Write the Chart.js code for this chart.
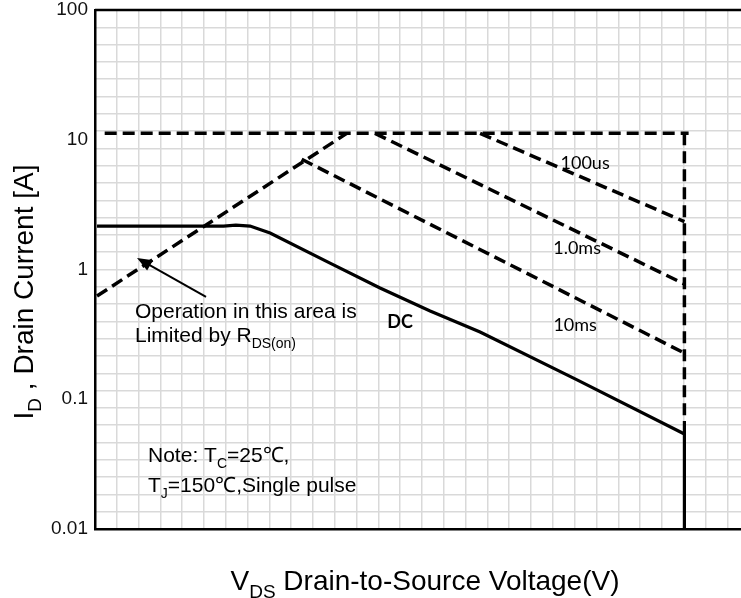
<!DOCTYPE html>
<html>
<head>
<meta charset="utf-8">
<script src="https://cdn.jsdelivr.net/npm/chart.js@4.4.1/dist/chart.umd.min.js"></script>
<style>
  html,body{margin:0;padding:0;background:#fff;overflow:hidden;}
  canvas{display:block;}
</style>
</head>
<body>
<canvas id="soa" width="741" height="598"></canvas>
<script>
/* ---------------- data (V in volts, I in amps) ---------------- */
const yTicks  = [0.01, 0.1, 1, 10, 100];
const yLabels = ["0.01", "0.1", "1", "10", "100"];

const idmV = [0.112, 104],  idmI = [11.2, 11.2];        // pulsed current limit
const rdsV = [0.1024, 1.904], rdsI = [0.625, 11.2];     // R_DS(on) limit
const us100V = [9.06, 99],  us100I = [11.2, 2.34];
const ms1V   = [2.65, 99],  ms1I   = [11.2, 0.773];
const ms10V  = [1.124, 99], ms10I  = [7.07, 0.227];
const dcV = [0.1024, 0.45, 0.52, 0.614, 0.776, 1.565, 2.81, 5.05, 9.06, 28.2, 99];
const dcI = [2.16, 2.16, 2.2, 2.16, 1.91, 1.12, 0.72, 0.479, 0.33, 0.141, 0.054];
const vlimV = [99, 99], vlimDashI = [11.2, 0.075], vlimSolidI = [0.068, 0.0102];

const pts = (xs, ys) => xs.map((x, i) => ({x, y: ys[i]}));

const DASH = [12, 6];
const base = {xAxisID: "x", yAxisID: "y", borderColor: "#000", showLine: true, pointRadius: 0, tension: 0};
const dashed = (xs, ys) => ({...base, data: pts(xs, ys), borderWidth: 3.5, borderDash: DASH});
const solid  = (xs, ys) => ({...base, data: pts(xs, ys), borderWidth: 3.2});

/* ---------------- annotation helpers ---------------- */
function richText(ctx, parts, x, y, size, family){
  let cx = x;
  parts.forEach(p => {
    const s = p.sub ? Math.round(size * 0.68) : size;
    ctx.font = `${s}px ${family}`;
    ctx.fillText(p.t, cx, p.sub ? y + size * 0.28 : y);
    cx += ctx.measureText(p.t).width;
  });
}
function richWidth(ctx, parts, size, family){
  let w = 0;
  parts.forEach(p => {
    ctx.font = `${p.sub ? Math.round(size * 0.68) : size}px ${family}`;
    w += ctx.measureText(p.t).width;
  });
  return w;
}

const ARIAL = "'Liberation Sans', Arial, sans-serif";
const CAL = "Lato, 'Open Sans', sans-serif";

const annotate = {
  id: "annotate",
  afterDraw(chart){
    const {ctx, chartArea: a, scales: {x, y}} = chart;
    ctx.save();
    // top frame line
    ctx.strokeStyle = "#000"; ctx.lineWidth = 2.5;
    ctx.beginPath(); ctx.moveTo(a.left, a.top); ctx.lineTo(a.right, a.top); ctx.stroke();

    ctx.fillStyle = "#000";
    ctx.textBaseline = "alphabetic"; ctx.textAlign = "left";

    // arrow toward the R_DS(on) line
    const tx = x.getPixelForValue(0.1635), ty = y.getPixelForValue(1.226);
    const fx = x.getPixelForValue(0.3667), fy = y.getPixelForValue(0.614);
    const ang = Math.atan2(ty - fy, tx - fx);
    ctx.lineWidth = 2;
    ctx.beginPath(); ctx.moveTo(fx, fy); ctx.lineTo(tx - 10 * Math.cos(ang), ty - 10 * Math.sin(ang)); ctx.stroke();
    ctx.beginPath();
    ctx.moveTo(tx, ty);
    ctx.lineTo(tx - 15 * Math.cos(ang) + 6 * Math.sin(ang), ty - 15 * Math.sin(ang) - 6 * Math.cos(ang));
    ctx.lineTo(tx - 15 * Math.cos(ang) - 6 * Math.sin(ang), ty - 15 * Math.sin(ang) + 6 * Math.cos(ang));
    ctx.closePath(); ctx.fill();

    const lx = x.getPixelForValue(0.1596);
    richText(ctx, [{t: "Operation in this area is"}], lx, y.getPixelForValue(0.423), 21, ARIAL);
    richText(ctx, [{t: "Limited by R"}, {t: "DS(on)", sub: true}], lx, y.getPixelForValue(0.276), 21, ARIAL);

    const nx = x.getPixelForValue(0.186);
    richText(ctx, [{t: "Note: T"}, {t: "C", sub: true}, {t: "=25℃,"}], nx, y.getPixelForValue(0.0328), 21, ARIAL);
    richText(ctx, [{t: "T"}, {t: "J", sub: true}, {t: "=150℃,Single pulse"}], nx, y.getPixelForValue(0.0193), 21, ARIAL);

    // curve labels
    ctx.textAlign = "center"; ctx.textBaseline = "middle";
    ctx.font = `18px ${CAL}`;
    ctx.fillText("100us", x.getPixelForValue(30.98), y.getPixelForValue(6.62));
    ctx.fillText("1.0ms", x.getPixelForValue(28.2), y.getPixelForValue(1.465));
    ctx.fillText("10ms", x.getPixelForValue(27.56), y.getPixelForValue(0.3735));
    ctx.font = `bold 18px ${CAL}`;
    ctx.fillText("DC", x.getPixelForValue(3.553), y.getPixelForValue(0.394));

    // axis titles
    ctx.textAlign = "left"; ctx.textBaseline = "alphabetic";
    const xt = [{t: "V"}, {t: "DS", sub: true}, {t: " Drain-to-Source Voltage(V)"}];
    const w = richWidth(ctx, xt, 28, ARIAL);
    richText(ctx, xt, 425 - w / 2, 590, 28, ARIAL);

    const yt = [{t: "I"}, {t: "D", sub: true}, {t: " , Drain Current [A]"}];
    const wy = richWidth(ctx, yt, 28, ARIAL);
    ctx.translate(33, 292); ctx.rotate(-Math.PI / 2);
    richText(ctx, yt, -wy / 2, 0, 28, ARIAL);
    ctx.restore();
  }
};

new Chart(document.getElementById("soa"), {
  type: "scatter",
  data: {datasets: [
    dashed(idmV, idmI),
    dashed(rdsV, rdsI),
    dashed(us100V, us100I),
    dashed(ms1V, ms1I),
    dashed(ms10V, ms10I),
    dashed(vlimV, vlimDashI),
    solid(vlimV, vlimSolidI),
    solid(dcV, dcI)
  ]},
  options: {
    responsive: false, animation: false, devicePixelRatio: 1,
    layout: {padding: {top: 10, bottom: 69, left: 0, right: 0}},
    plugins: {legend: {display: false}, tooltip: {enabled: false}},
    scales: {
      x: {type: "logarithmic", position: "bottom", min: 0.1, max: 192, z: 1,
          ticks: {display: false}, grid: {display: false, drawTicks: false},
          border: {color: "#000", width: 2.5}, afterFit: s => { s.height = 0; }},
      y: {type: "logarithmic", position: "left", min: 0.01, max: 100, z: 1,
          afterBuildTicks: s => { s.ticks = yTicks.map(v => ({value: v})); },
          ticks: {callback: v => yLabels[yTicks.indexOf(v)], color: "#111",
                  font: {family: "'Liberation Sans', Arial, sans-serif", size: 19}, padding: 7},
          grid: {display: false, drawTicks: false},
          border: {color: "#000", width: 2.5},
          afterFit: s => { s.width = 95; s.paddingTop = 0; s.paddingBottom = 0; }},
      gx: {type: "linear", position: "bottom", min: 0, max: 29.63,
           ticks: {display: false, stepSize: 1, includeBounds: false},
           grid: {color: c => c.index === 0 ? "rgba(0,0,0,0)" : "#d9d9d9", lineWidth: 1.5, drawTicks: false},
           border: {display: false}, afterFit: s => { s.height = 0; }},
      gy: {type: "linear", position: "left", min: 0, max: 30,
           ticks: {display: false, stepSize: 1},
           grid: {color: "#d9d9d9", lineWidth: 1.5, drawTicks: false},
           border: {display: false}, afterFit: s => { s.width = 0; s.paddingTop = 0; s.paddingBottom = 0; }}
    }
  },
  plugins: [annotate]
});
</script>
</body>
</html>
